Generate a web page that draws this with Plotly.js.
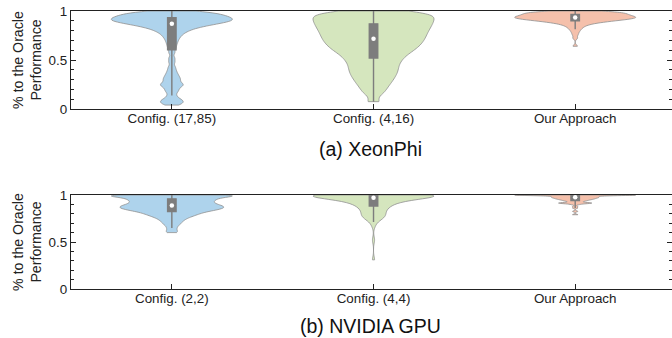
<!DOCTYPE html>
<html>
<head>
<meta charset="utf-8">
<script src="https://cdn.plot.ly/plotly-3.0.1.min.js"></script>
<style>html,body{margin:0;padding:0;background:#fff;}#chart{width:672px;height:338px;}</style>
</head>
<body>
<div id="chart"></div>
<script>
// ---- categories ----
const xeonCategories = ['Config. (17,85)', 'Config. (4,16)', 'Our Approach'];
const gpuCategories = ['Config. (2,2)', 'Config. (4,4)', 'Our Approach'];
const panelTitles = ['(a) XeonPhi', '(b) NVIDIA GPU'];
const yTitle = '% to the Oracle<br>Performance';
const yTickVals = [0, 0.5, 1];
const yTickText = ['0', '0.5', '1'];

// ---- XeonPhi samples (% of oracle performance) ----
const xeonConfig1785 = [0.04, 0.055, 0.062, 0.077, 0.085, 0.094, 0.113, 0.137, 0.168, 0.189, 0.204, 0.227, 0.237, 0.247, 0.256, 0.266, 0.287, 0.30, 0.314, 0.331, 0.349, 0.371, 0.398, 0.431, 0.479, 0.52, 0.574,
  0.615, 0.645, 0.671, 0.693, 0.713, 0.730, 0.745, 0.758, 0.770, 0.781, 0.789, 0.798, 0.805, 0.812, 0.819, 0.824, 0.829, 0.834, 0.839, 0.843, 0.847, 0.851, 0.854, 0.858, 0.861, 0.864, 0.867, 0.870, 0.873, 0.875, 0.878, 0.881, 0.883, 0.885, 0.888, 0.890, 0.892, 0.894, 0.897, 0.899, 0.901, 0.903, 0.905, 0.907, 0.909, 0.911, 0.913, 0.915, 0.917, 0.919, 0.922, 0.924, 0.926, 0.928, 0.930, 0.932, 0.934, 0.937, 0.939, 0.941, 0.943, 0.946, 0.948, 0.950, 0.953, 0.955, 0.958, 0.960, 0.963, 0.965, 0.968, 0.971, 0.974, 0.976, 0.979, 0.982, 0.985, 0.988, 0.991, 0.994, 0.997, 1.0];
const xeonConfig416 = [0.075, 0.153, 0.191, 0.223, 0.251, 0.275, 0.298, 0.318, 0.338, 0.357, 0.374, 0.392, 0.409, 0.426, 0.443, 0.460, 0.476, 0.492, 0.507, 0.521, 0.535, 0.549, 0.561, 0.573, 0.584, 0.596, 0.606, 0.616, 0.625, 0.635, 0.645, 0.654, 0.663, 0.671, 0.680, 0.689, 0.698, 0.706, 0.714, 0.722, 0.731, 0.739, 0.747, 0.755, 0.763, 0.771, 0.779, 0.787, 0.795, 0.802, 0.810, 0.818, 0.825, 0.833, 0.840, 0.848, 0.855, 0.862, 0.869, 0.877, 0.884, 0.891, 0.898, 0.905, 0.912, 0.919, 0.926, 0.933, 0.940, 0.947, 0.953, 0.963, 0.968, 0.973, 0.983, 0.988, 0.993, 1.0];
const xeonOurs = [0.64, 0.724, 0.758, 0.782, 0.801, 0.815, 0.827, 0.838, 0.846, 0.854, 0.861, 0.866, 0.871, 0.876, 0.880, 0.883, 0.886, 0.888, 0.891, 0.894, 0.896, 0.899, 0.901, 0.903, 0.904, 0.906, 0.908, 0.909, 0.911, 0.912, 0.914, 0.916, 0.917, 0.919, 0.921, 0.922, 0.923, 0.924, 0.925, 0.927, 0.928, 0.929, 0.930, 0.931, 0.933, 0.934, 0.935, 0.936, 0.938, 0.939, 0.940, 0.941, 0.943, 0.944, 0.945, 0.947, 0.948, 0.950, 0.951, 0.953, 0.954, 0.955, 0.957, 0.958, 0.960, 0.962, 0.963, 0.965, 0.967, 0.968, 0.970, 0.972, 0.973, 0.975, 0.976, 0.978, 0.979, 0.981, 0.982, 0.984, 0.985, 0.987, 0.988, 0.990, 0.991, 0.993, 0.994, 0.996, 0.997, 1.0];

// ---- NVIDIA GPU samples ----
const gpuConfig22 = [0.60, 0.622, 0.648, 0.672, 0.689, 0.704, 0.717, 0.728, 0.739, 0.748, 0.757, 0.764, 0.771, 0.777, 0.783, 0.788, 0.794, 0.798, 0.803, 0.807, 0.812, 0.816, 0.820, 0.824, 0.827, 0.831, 0.834, 0.837, 0.840, 0.843, 0.846, 0.848, 0.851, 0.854, 0.856, 0.859, 0.861, 0.864, 0.866, 0.868, 0.871, 0.873, 0.876, 0.878, 0.881, 0.883, 0.886, 0.888, 0.891, 0.893, 0.896, 0.899, 0.902, 0.905, 0.908, 0.911, 0.914, 0.917, 0.920, 0.923, 0.927, 0.930, 0.933, 0.936, 0.939, 0.942, 0.946, 0.948, 0.951, 0.954, 0.957, 0.960, 0.963, 0.966, 0.969, 0.971, 0.974, 0.977, 0.979, 0.981, 0.984, 0.986, 0.988, 0.991, 0.993,
  1, 1, 1, 1, 1, 1, 1, 1, 1, 1];
const gpuConfig44 = [0.31, 0.52, 0.67, 0.713, 0.734, 0.745, 0.755, 0.762, 0.768, 0.775, 0.781, 0.787, 0.794, 0.802, 0.810, 0.818, 0.827, 0.835, 0.843, 0.849, 0.856, 0.862, 0.868, 0.874, 0.880, 0.886, 0.891, 0.897, 0.902, 0.907, 0.911, 0.915, 0.919, 0.923, 0.926, 0.930, 0.933, 0.936, 0.939, 0.942, 0.945, 0.948, 0.951, 0.954, 0.957, 0.960, 0.963, 0.965, 0.968, 0.971, 0.973, 0.976, 0.978, 0.980, 0.983, 0.985, 0.987, 0.989, 0.991, 0.993, 0.995, 0.996, 0.997, 0.998, 0.998, 0.999,
  1, 1, 1, 1, 1, 1, 1, 1, 1, 1, 1, 1, 1, 1, 1, 1, 1, 1, 1, 1, 1, 1, 1, 1, 1, 1, 1, 1, 1, 1, 1, 1, 1, 1];
const gpuOurs = [0.79, 0.826, 0.862, 0.878, 0.898, 0.906, 0.912, 0.913, 0.914, 0.915, 0.916, 0.918, 0.927, 0.932, 0.936, 0.940, 0.943, 0.946, 0.949, 0.951, 0.954, 0.956, 0.958, 0.960, 0.962, 0.964, 0.966, 0.968, 0.970, 0.971, 0.973, 0.975, 0.976, 0.978, 0.980, 0.981, 0.983, 0.985, 0.986, 0.988, 0.990, 0.992, 0.994,
  1, 1, 1, 1, 1, 1, 1, 1, 1, 1, 1, 1, 1, 1, 1, 1, 1, 1, 1, 1, 1];

const xeonSeries = [xeonConfig1785, xeonConfig416, xeonOurs];
const gpuSeries = [gpuConfig22, gpuConfig44, gpuOurs];
const violinColors = ['#aed3ec', '#d5e6be', '#f5c0ab'];
const xeonBandwidths = [0.02, 0.035, 0.015];
const gpuBandwidths = [0.015, 0.035, 0.006];

function median(arr) {
  const s = arr.slice().sort((a, b) => a - b);
  const n = s.length;
  return n % 2 ? s[(n - 1) / 2] : (s[n / 2 - 1] + s[n / 2]) / 2;
}

const traces = [];
function addPanel(series, cats, bws, xa, ya) {
  series.forEach((vals, i) => {
    traces.push({
      type: 'violin', xaxis: xa, yaxis: ya,
      x: vals.map(() => cats[i]), y: vals, name: cats[i],
      width: 0.6, scalemode: 'width', spanmode: 'hard', bandwidth: bws[i],
      points: false, fillcolor: violinColors[i],
      line: {color: '#8f8f8f', width: 0.8},
      box: {visible: true, width: 0.07, fillcolor: '#7d7d7d', line: {color: '#7d7d7d', width: 1.4}},
      meanline: {visible: false}, hoverinfo: 'skip', showlegend: false
    });
  });
  traces.push({
    type: 'scatter', mode: 'markers', xaxis: xa, yaxis: ya,
    x: cats, y: series.map(median),
    marker: {color: 'white', size: 4.5, line: {width: 0}},
    hoverinfo: 'skip', showlegend: false
  });
}
addPanel(xeonSeries, xeonCategories, xeonBandwidths, 'x', 'y');
addPanel(gpuSeries, gpuCategories, gpuBandwidths, 'x2', 'y2');

const axisColor = '#222';
function xAxis(anchor) {
  return {anchor: anchor, type: 'category', range: [-0.5, 2.48], showline: true, mirror: true,
    linecolor: axisColor, linewidth: 1.2, ticks: 'inside', ticklen: 5, tickcolor: axisColor, tickwidth: 1,
    ticklabelstandoff: -3,
    showgrid: false, zeroline: false, fixedrange: true, tickfont: {size: 13.4, color: '#222'}};
}
function yAxis(anchor, domain) {
  return {anchor: anchor, domain: domain, range: [0, 1], tickmode: 'array', tickvals: yTickVals, ticktext: yTickText,
    showline: true, mirror: 'ticks', linecolor: axisColor, linewidth: 1.2, ticks: 'inside', ticklen: 5,
    tickcolor: axisColor, tickwidth: 1, showgrid: false, zeroline: false, fixedrange: true,
    tickfont: {size: 13.4, color: '#222'},
    minor: {dtick: 0.1, tick0: 0, ticks: 'inside', ticklen: 3, tickcolor: axisColor, tickwidth: 1, showgrid: false},
    title: {text: yTitle, font: {size: 14.2, color: '#222'}, standoff: 3}};
}

const layout = {
  width: 672, height: 338,
  margin: {l: 71, r: 0, t: 11, b: 49, pad: 0},
  paper_bgcolor: '#ffffff', plot_bgcolor: '#ffffff',
  showlegend: false, violinmode: 'overlay',
  font: {family: '"Liberation Sans", Arial, Helvetica, sans-serif', color: '#222', size: 13},
  xaxis: Object.assign(xAxis('y'), {domain: [0, 1]}),
  yaxis: yAxis('x', [0.6475, 1]),
  xaxis2: Object.assign(xAxis('y2'), {domain: [0, 1]}),
  yaxis2: yAxis('x2', [0, 0.3381]),
  annotations: [
    {text: panelTitles[0], xref: 'paper', yref: 'paper', x: 0.499, y: 0.5036, xanchor: 'center', yanchor: 'middle', showarrow: false, font: {size: 19.5, color: '#111'}},
    {text: panelTitles[1], xref: 'paper', yref: 'paper', x: 0.499, y: -0.133, xanchor: 'center', yanchor: 'middle', showarrow: false, font: {size: 19.5, color: '#111'}}
  ]
};

Plotly.newPlot('chart', traces, layout, {staticPlot: true, displayModeBar: false});
</script>
</body>
</html>
